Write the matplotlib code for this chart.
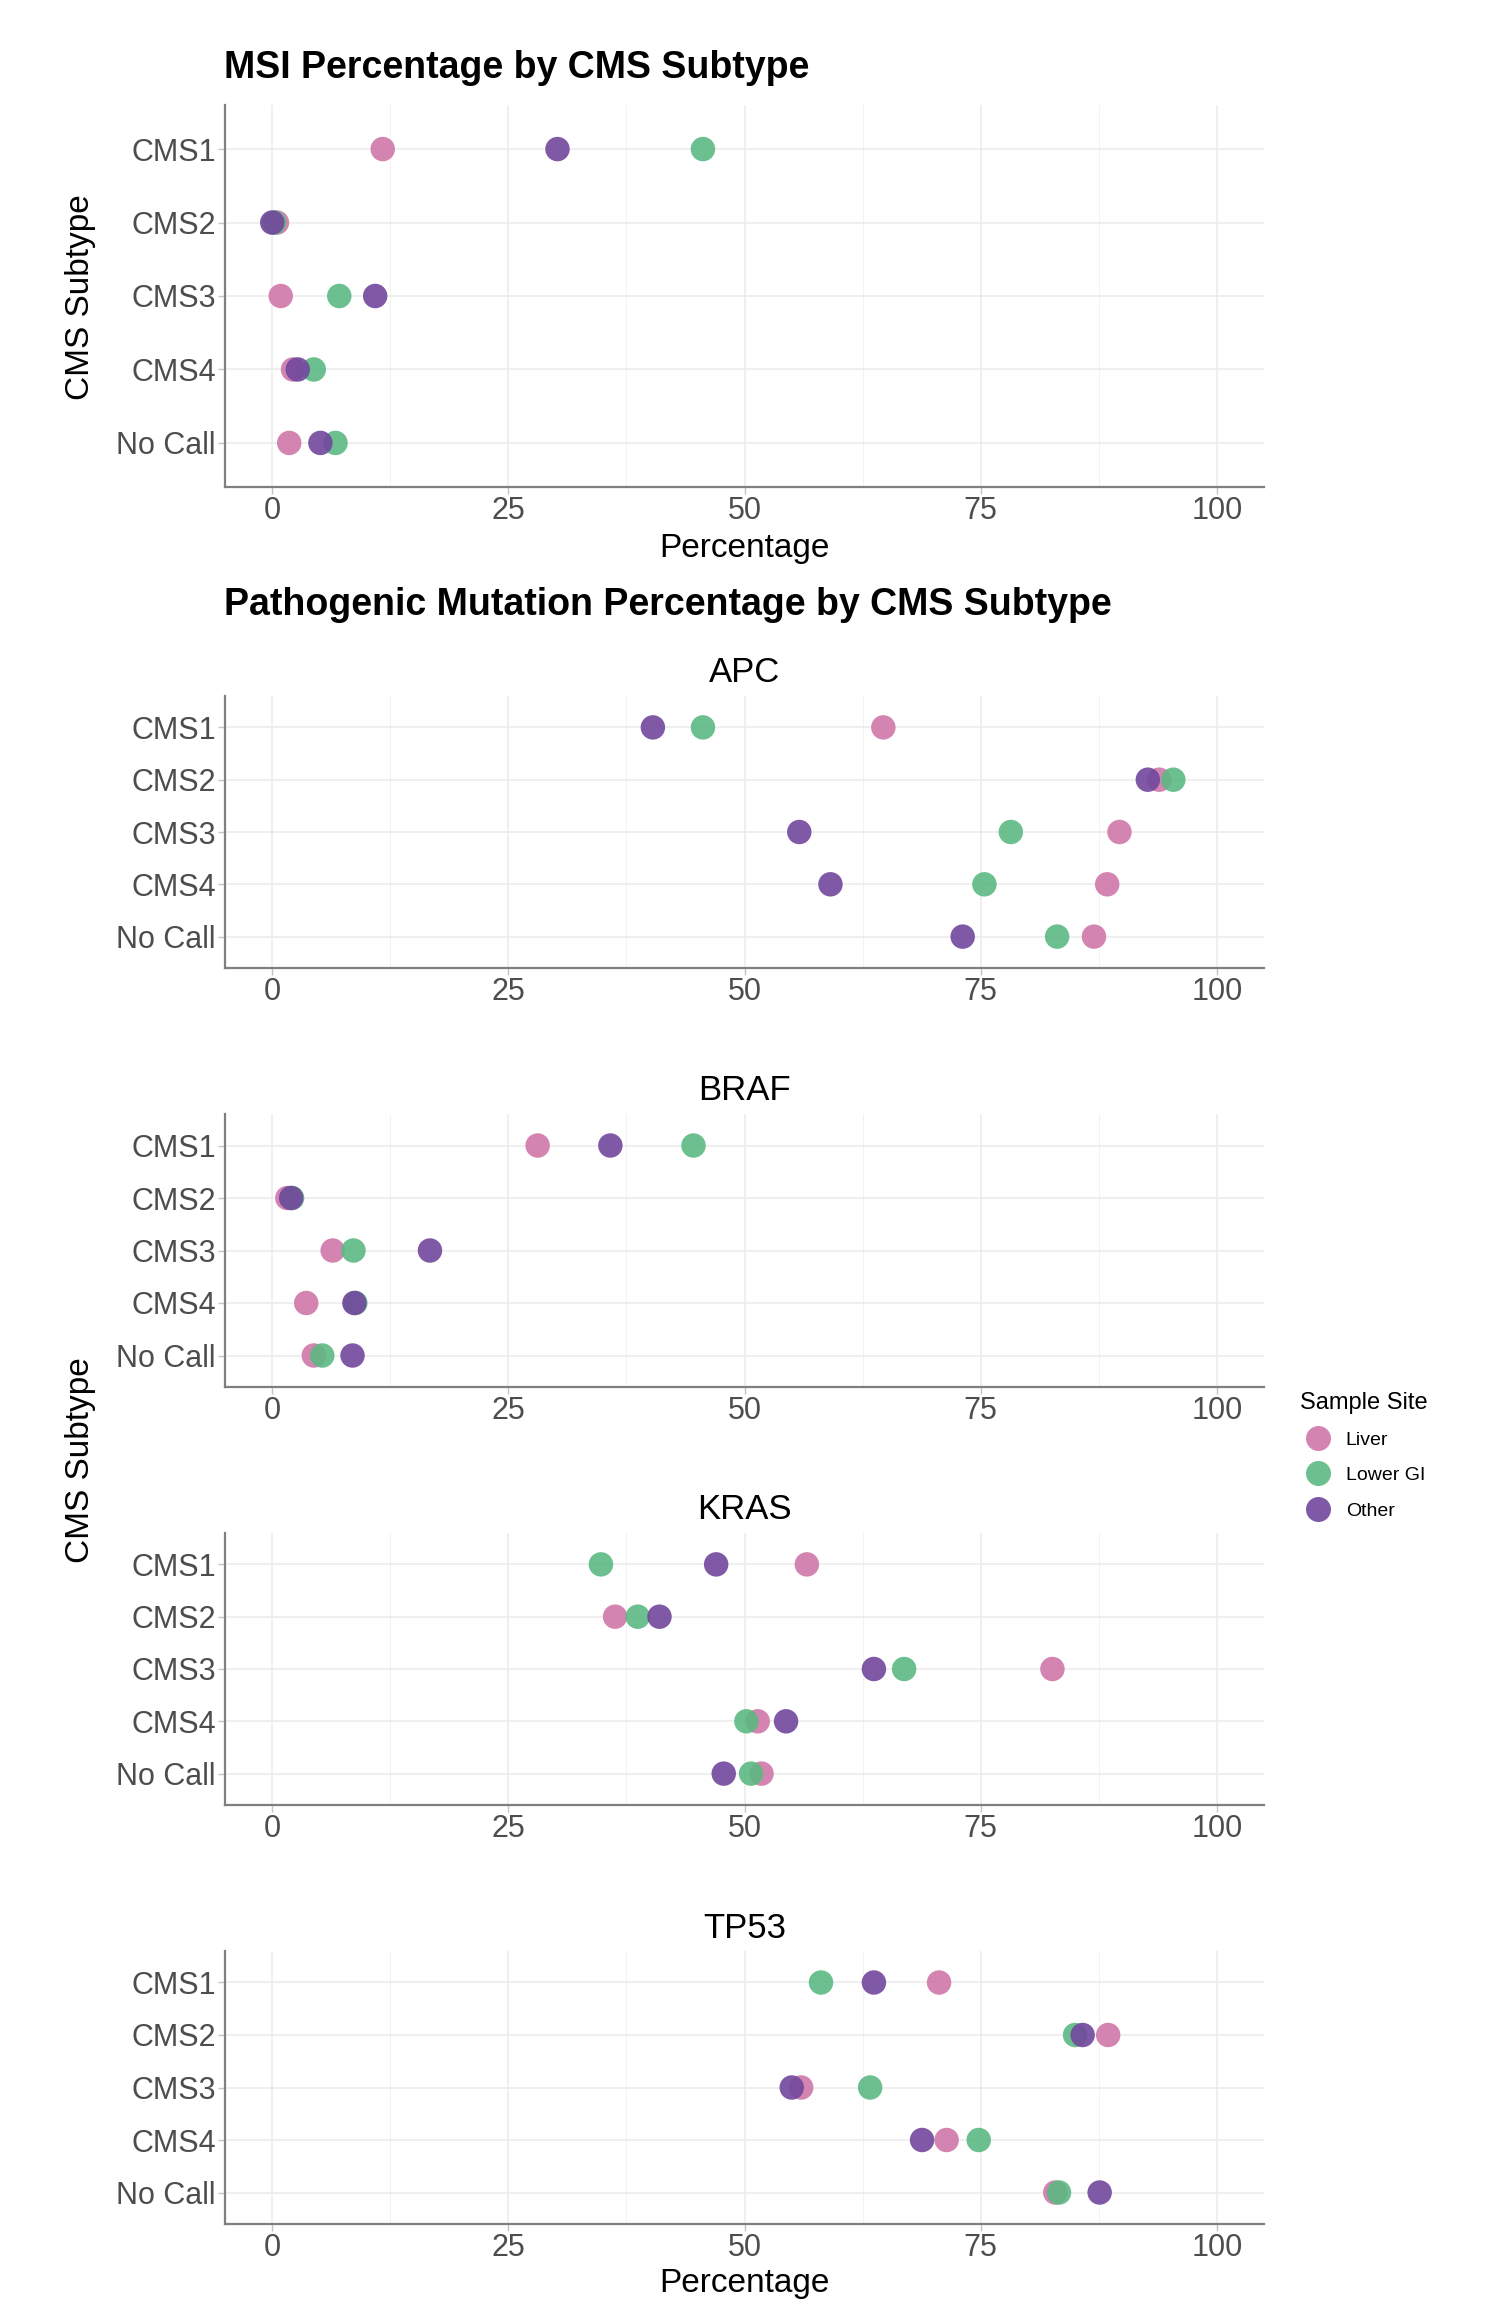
import matplotlib
matplotlib.use("Agg")
import matplotlib.pyplot as plt
from matplotlib.lines import Line2D
from matplotlib.ticker import MultipleLocator

plt.rcParams['font.family'] = ['Liberation Sans', 'DejaVu Sans']

# categorias y grupos
subtypes = ["CMS1", "CMS2", "CMS3", "CMS4", "No Call"]
sites = ["Liver", "Lower GI", "Other"]
site_colors = ["#cf77a9", "#5cb882", "#72479d"]

# MSI (%)
msi_liver = [11.7, 0.5, 0.9, 2.2, 1.8]
msi_lower_gi = [45.6, 0.2, 7.1, 4.4, 6.7]
msi_other = [30.2, 0.0, 10.9, 2.7, 5.1]

# mutaciones patogenicas (%)
apc_liver = [64.7, 93.9, 89.7, 88.4, 87.0]
apc_lower_gi = [45.6, 95.4, 78.2, 75.4, 83.1]
apc_other = [40.3, 92.7, 55.8, 59.1, 73.1]

braf_liver = [28.1, 1.6, 6.4, 3.6, 4.4]
braf_lower_gi = [44.6, 2.1, 8.6, 8.8, 5.3]
braf_other = [35.8, 2.0, 16.7, 8.7, 8.5]

kras_liver = [56.6, 36.3, 82.6, 51.4, 51.8]
kras_lower_gi = [34.8, 38.7, 66.9, 50.2, 50.7]
kras_other = [47.0, 41.0, 63.7, 54.4, 47.8]

tp53_liver = [70.6, 88.5, 56.0, 71.4, 82.9]
tp53_lower_gi = [58.1, 85.0, 63.3, 74.8, 83.3]
tp53_other = [63.7, 85.8, 55.0, 68.8, 87.6]

genes = ["APC", "BRAF", "KRAS", "TP53"]
gene_data = [
    [apc_liver, apc_lower_gi, apc_other],
    [braf_liver, braf_lower_gi, braf_other],
    [kras_liver, kras_lower_gi, kras_other],
    [tp53_liver, tp53_lower_gi, tp53_other],
]

W, H = 1499, 2300
fig = plt.figure(figsize=(W / 100, H / 100), dpi=100)

left_px, right_px = 225, 1264


def make_ax(top_px, bottom_px):
    ax = fig.add_axes([left_px / W, 1 - bottom_px / H,
                       (right_px - left_px) / W, (bottom_px - top_px) / H])
    return ax


def style_ax(ax):
    ax.set_xlim(-5, 105)
    ax.set_ylim(4.6, -0.6)
    ax.xaxis.set_major_locator(MultipleLocator(25))
    ax.xaxis.set_minor_locator(MultipleLocator(12.5))
    ax.grid(True, which='major', color='#ebebeb', linewidth=1.1)
    ax.grid(True, which='minor', axis='x', color='#f0f0f0', linewidth=0.6)
    ax.set_axisbelow(True)
    for s in ['top', 'right']:
        ax.spines[s].set_visible(False)
    for s in ['left', 'bottom']:
        ax.spines[s].set_color('#7f7f7f')
        ax.spines[s].set_linewidth(1.6)
    ax.tick_params(which='major', length=5, width=1.0, color='#c4c4c4',
                   labelsize=22, labelcolor='#4d4d4d', pad=1.5)
    ax.tick_params(which='minor', length=0)


def draw_points(ax, series):
    for vals, col in zip(series, site_colors):
        ax.scatter(vals, subtypes, s=310, color=col, alpha=0.9,
                   edgecolors='none', zorder=3)


# panel MSI
ax0 = make_ax(105, 487)
draw_points(ax0, [msi_liver, msi_lower_gi, msi_other])
style_ax(ax0)
fig.text(224 / W, 1 - 78 / H, "MSI Percentage by CMS Subtype",
         fontsize=27, fontweight='bold', ha='left', va='baseline')
fig.text((left_px + right_px) / 2 / W, 1 - 557 / H, "Percentage",
         fontsize=24, ha='center', va='baseline')
fig.text(80 / W, 1 - 297 / H, "CMS Subtype", fontsize=24, rotation=90,
         ha='center', va='center')

# paneles por gen
fig.text(224 / W, 1 - 615 / H, "Pathogenic Mutation Percentage by CMS Subtype",
         fontsize=27, fontweight='bold', ha='left', va='baseline')

panel_px = [(696, 968), (1114, 1387), (1533, 1805), (1951, 2224)]
title_base = [682, 1100, 1519, 1938]
for gene, series, (t, b), tb in zip(genes, gene_data, panel_px, title_base):
    ax = make_ax(t, b)
    draw_points(ax, series)
    style_ax(ax)
    fig.text((left_px + right_px) / 2 / W, 1 - tb / H, gene,
             fontsize=25, ha='center', va='baseline')

fig.text((left_px + right_px) / 2 / W, 1 - 2292 / H, "Percentage",
         fontsize=24, ha='center', va='baseline')
fig.text(80 / W, 1 - 1460 / H, "CMS Subtype", fontsize=24, rotation=90,
         ha='center', va='center')

# leyenda
fig.text(1300 / W, 1 - 1409 / H, "Sample Site", fontsize=17,
         ha='left', va='baseline')
handles = [Line2D([], [], linestyle='none', marker='o', markersize=18,
                  markerfacecolor=c, markeredgecolor='none', alpha=0.9)
           for c in site_colors]
fig.legend(handles, sites, loc='upper left',
           bbox_to_anchor=(1305 / W, 1 - 1431 / H), frameon=False,
           fontsize=14, handlelength=1.3, handletextpad=0.8,
           labelspacing=0.92, borderaxespad=0, borderpad=0)

fig.savefig("out.png", dpi=100)
